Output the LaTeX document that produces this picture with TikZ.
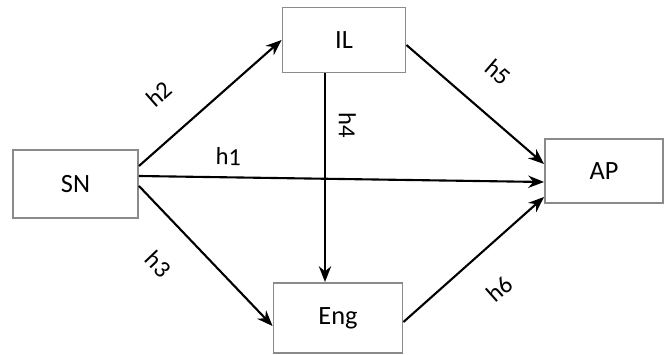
\documentclass[tikz,border=0pt]{standalone}
\usepackage{fontspec}
\setmainfont{Carlito}
\usetikzlibrary{arrows.meta, positioning}
\definecolor{boxgray}{HTML}{8A8A8A}

\begin{document}
\begin{tikzpicture}[
  x=0.02cm, y=-0.02cm,
  every node/.style={font=\fontsize{15}{17}\selectfont},
  varbox/.style={rectangle, draw=boxgray, line width=1.1pt, fill=white, align=center},
  hyparrow/.style={-{Stealth[length=9pt, width=7pt]}, line width=1.2pt, black},
  hyplabel/.style={font=\fontsize{14}{16}\selectfont, sloped},
]
\useasboundingbox (0,0) rectangle (667,355);

% constructs
\node[varbox, minimum width=2.5cm, minimum height=1.36cm] (sn) at (75.5,184) {SN};
\node[varbox, minimum width=2.46cm, minimum height=1.3cm] (il) at (344,40) {IL};
\node[varbox, minimum width=2.36cm, minimum height=1.28cm] (ap) at (604,171) {AP};
\node[varbox, minimum width=2.58cm, minimum height=1.4cm] (eng) at (338,318) {Eng};

% hypotheses
\draw[hyparrow] (sn.east |- 0,166) -- node[hyplabel, above, pos=0.33, yshift=14.5pt] {h2} (il.west |- 0,40);
\draw[hyparrow] (sn.east |- 0,176) -- node[hyplabel, above, pos=0.22, yshift=3pt] {h1} (ap.west |- 0,182);
\draw[hyparrow] (sn.east |- 0,186) -- node[hyplabel, below, pos=0.36, yshift=-14pt] {h3} (eng.west |- 0,326);
\draw[hyparrow] (il.south -| 325,0) -- node[font=\fontsize{14}{16}\selectfont, pos=0.25, rotate=-90, anchor=south, yshift=4pt] {h4} (eng.north -| 325,0);
\draw[hyparrow] (il.east |- 0,45) -- node[hyplabel, above, pos=0.48, yshift=13.5pt] {h5} (ap.west |- 0,164);
\draw[hyparrow] (eng.east |- 0,322) -- node[hyplabel, below, pos=0.5, yshift=-13.5pt] {h6} (ap.west |- 0,197);

\end{tikzpicture}
\end{document}
